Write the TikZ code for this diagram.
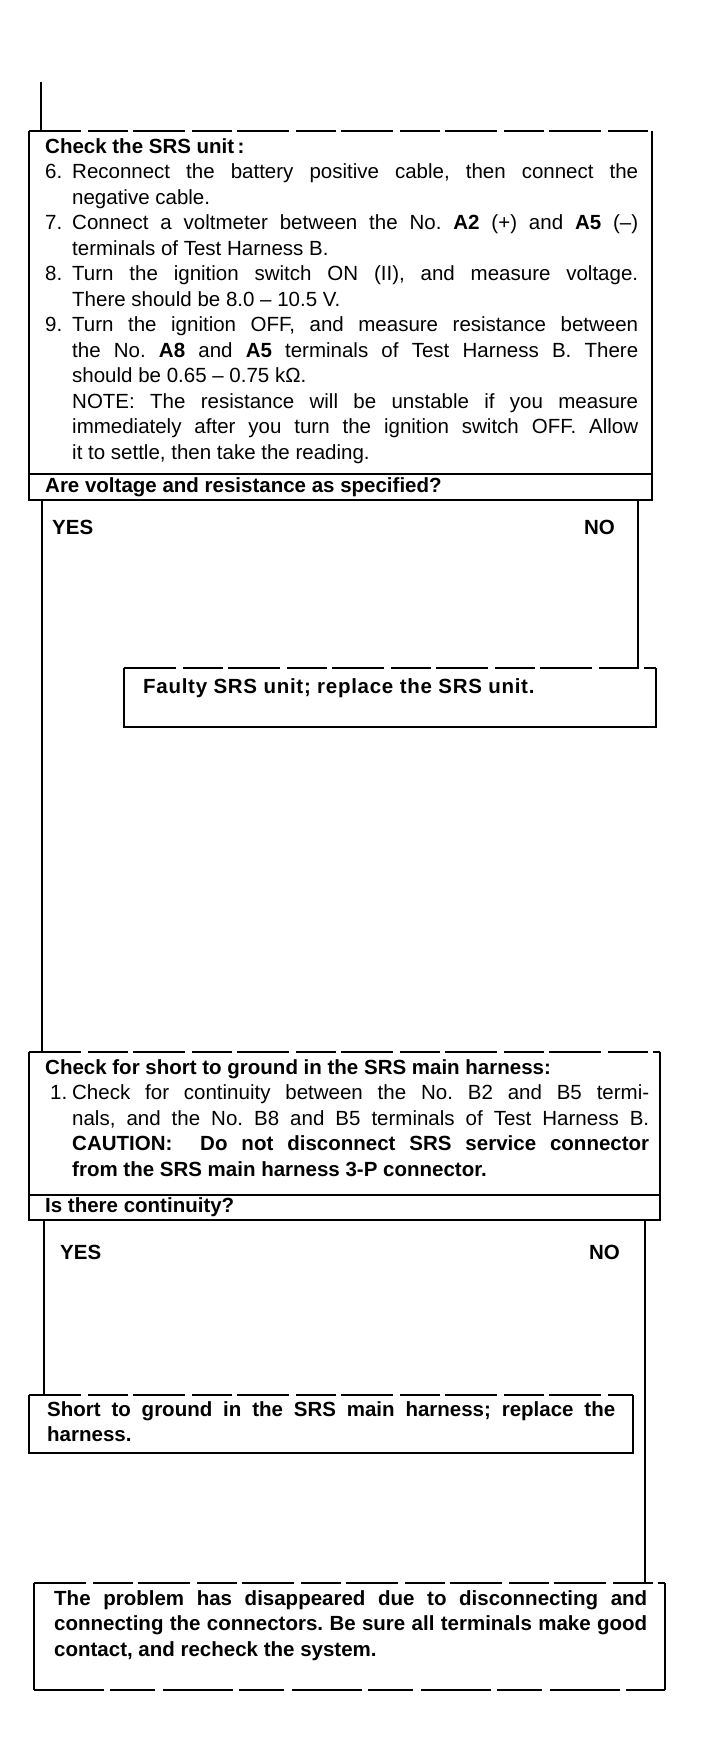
\documentclass[tikz,border=0pt]{standalone}
\usepackage{fontspec}
\setmainfont{Liberation Sans}
\usetikzlibrary{calc}
\frenchspacing
\newcommand{\hitem}[1]{\par\noindent\hangindent=27pt\hangafter=1\makebox[27pt][l]{#1}}
\newcommand{\fsz}{\fontsize{20.5}{25.5}\selectfont}
\begin{document}
\begin{tikzpicture}[x=1pt,y=-1pt,
  area/.style={anchor=north west, inner sep=0pt, outer sep=0pt, draw=none},
  frame/.style={line width=1.5pt, line join=miter},
  topdash/.style={line width=1.5pt, dash pattern=on 52pt off 7pt on 40pt off 5pt},
  conn/.style={line width=1.4pt},
  body/.style={anchor=north west, inner sep=0pt, align=justify, font=\fsz},
  bld/.style={inner sep=0pt, font=\fsz\bfseries},
]
\useasboundingbox[fill=white] (0,0) rectangle (704,1740);

% ---- box areas ----
\node[area, minimum width=623pt, minimum height=343pt] (b1) at (29,131) {};
\node[area, minimum width=623pt, minimum height=26pt]  (q1) at (29,474) {};
\node[area, minimum width=532pt, minimum height=59pt]  (f1) at (124,668) {};
\node[area, minimum width=631pt, minimum height=143pt] (b2) at (29,1052) {};
\node[area, minimum width=631pt, minimum height=25pt]  (q2) at (29,1195) {};
\node[area, minimum width=604pt, minimum height=58pt]  (s1) at (29,1395) {};
\node[area, minimum width=631pt, minimum height=107pt] (fin) at (34,1583) {};

% ---- frames ----
\foreach \b in {b1,f1,b2,s1}{
  \draw[frame] (\b.north west) -- (\b.south west) -- (\b.south east) -- (\b.north east);
  \draw[topdash] (\b.north west) -- (\b.north east);
}
\draw[frame] (fin.south west) -- (fin.north west) (fin.south east) -- (fin.north east);
\draw[topdash] (fin.north west) -- (fin.north east);
\draw[frame, dash pattern=on 70pt off 6pt on 45pt off 8pt] (fin.south west) -- (fin.south east);
\foreach \b in {q1,q2}{
  \draw[frame] (\b.north west) rectangle (\b.south east);
}

% ---- texts ----
\node[body, text width=593pt] (t1) at (45,135) {\strut\textbf{Check the SRS unit\,:}
\hitem{6.}Reconnect the battery positive cable, then connect the\linebreak negative cable.
\hitem{7.}Connect a voltmeter between the No. \textbf{A2} (+) and \textbf{A5} (–)\linebreak terminals of Test Harness B.
\hitem{8.}Turn the ignition switch ON (II), and measure voltage.\linebreak There should be 8.0 – 10.5 V.
\hitem{9.}Turn the ignition OFF, and measure resistance between\linebreak the No. \textbf{A8} and \textbf{A5} terminals of Test Harness B. There\linebreak should be 0.65 – 0.75 kΩ.\newline NOTE: The resistance will be unstable if you measure\linebreak immediately after you turn the ignition switch OFF. Allow\linebreak it to settle, then take the reading.\par};
\node[bld, anchor=west] (q1t) at ($(q1.west)+(16,0)$) {Are voltage and resistance as specified?};

\node[bld, anchor=west] (yes1) at (52,527) {YES};
\node[bld, anchor=east] (no1) at (615,527) {NO};
\node[bld, anchor=west] (f1t) at (143,688) {\addfontfeatures{LetterSpace=3.5}Faulty SRS unit; replace the SRS unit.};

\node[body, text width=604pt] (t2) at (45,1056) {\strut\textbf{Check for short to ground in the SRS main harness:}
\hitem{\hspace*{5pt}1.}Check for continuity between the No. B2 and B5 termi-\linebreak nals, and the No. B8 and B5 terminals of Test Harness B.\linebreak \textbf{CAUTION:\ \ Do not disconnect SRS service connector\linebreak from the SRS main harness 3-P connector.}\par};
\node[bld, anchor=west] (q2t) at ($(q2.west)+(16,0)$) {Is there continuity?};

\node[bld, anchor=west] (yes2) at (60,1252) {YES};
\node[bld, anchor=east] (no2) at (620,1252) {NO};

\node[body, text width=568pt, font=\fsz\bfseries] (s1t) at (47,1398) {\strut Short to ground in the SRS main harness; replace the\linebreak harness.\par};

\node[body, text width=593pt, font=\fsz\bfseries] (fint) at (54,1587) {\strut The problem has disappeared due to disconnecting and\linebreak connecting the connectors. Be sure all terminals make good\linebreak contact, and recheck the system.\par};

% ---- connectors ----
\coordinate (start) at (41,82);
\coordinate (c1) at ($(q1.south west)+(13,0)$);
\coordinate (c2) at ($(q1.south east)+(-14,0)$);
\coordinate (c3) at ($(q2.south west)+(15,0)$);
\coordinate (c4) at ($(q2.south east)+(-15,0)$);
\draw[conn] (start) -- (start |- b1.north);
\draw[conn] (c1) -- (c1 |- b2.north);
\draw[conn] (c2) -- (c2 |- f1.north);
\draw[conn] (c3) -- (c3 |- s1.north);
\draw[conn] (c4) -- (c4 |- fin.north);
\end{tikzpicture}
\end{document}
